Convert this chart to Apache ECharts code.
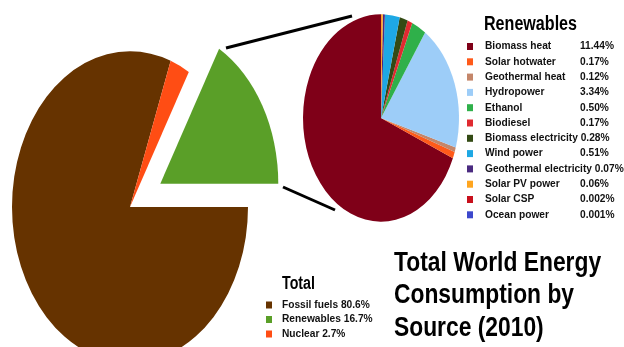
<!DOCTYPE html>
<html>
<head>
<meta charset="utf-8">
<script src="https://cdn.jsdelivr.net/npm/echarts@6/dist/echarts.min.js"></script>
<style>
  html, body { margin: 0; padding: 0; background: #fff; }
  #chart { width: 624px; height: 347px; }
</style>
</head>
<body>
<div id="chart"></div>
<script>
// World energy consumption by source, 2010 (percent of total)
const totalNames = ['Fossil fuels', 'Renewables', 'Nuclear'];
const totalShares = [80.6, 16.7, 2.7];
const totalColors = ['#663300', '#5a9f28', '#ff4d14'];

const renewNames = [
  'Biomass heat', 'Solar hotwater', 'Geothermal heat', 'Hydropower',
  'Ethanol', 'Biodiesel', 'Biomass electricity', 'Wind power',
  'Geothermal electricity', 'Solar PV power', 'Solar CSP', 'Ocean power'
];
const renewShares = [11.44, 0.17, 0.12, 3.34, 0.50, 0.17, 0.28, 0.51, 0.07, 0.06, 0.002, 0.001];
const renewLabels = ['11.44%', '0.17%', '0.12%', '3.34%', '0.50%', '0.17%', '0.28%', '0.51%', '0.07%', '0.06%', '0.002%', '0.001%'];
const renewColors = [
  '#7f0018', '#ff5a1a', '#c4866a', '#9dcdf8',
  '#2fb04a', '#e02a30', '#334a14', '#1ea8e4',
  '#4a2a80', '#ffa51f', '#c8101c', '#3c48cc'
];

const mainTitle = 'Total World Energy\nConsumption by\nSource (2010)';
const renewTitle = 'Renewables';
const totalTitle = 'Total';

const SANS = "'Liberation Sans', Arial, sans-serif";
const ITEM_FONT = 10.2;

// Pie geometry: drawn as ellipses (r horizontal, scaleY vertical stretch).
const leftPie = {
  names: totalNames, values: totalShares, colors: totalColors,
  cx: 130, cy: 207, r: 118, scaleY: 1.32,
  // fossil fuels end exactly at 3 o'clock, slices run counter-clockwise
  start: 360 * (1 - totalShares[0] / totalShares.reduce((a, b) => a + b, 0)),
  explode: { Renewables: 35 }
};
const rightPie = {
  names: renewNames, values: renewShares, colors: renewColors,
  cx: 381, cy: 118, r: 78, scaleY: 1.33,
  start: 90,
  explode: {}
};

function sliceSeries(pie, i) {
  const sum = pie.values.reduce((a, b) => a + b, 0);
  return {
    type: 'custom',
    name: pie.names[i],
    coordinateSystem: 'none',
    silent: true,
    animation: false,
    itemStyle: { color: pie.colors[i] },
    data: [pie.values[i]],
    renderItem: function (params, api) {
      let acc = 0;
      for (let j = 0; j < i; j++) acc += pie.values[j];
      const a0 = pie.start + 360 * acc / sum;
      const a1 = a0 + 360 * api.value(0) / sum;
      const mid = (a0 + a1) / 2 * Math.PI / 180;
      const d = pie.explode[pie.names[i]] || 0;
      return {
        type: 'sector',
        x: pie.cx + d * Math.cos(mid),
        y: pie.cy - d * Math.sin(mid) * pie.scaleY,
        scaleY: pie.scaleY,
        shape: {
          cx: 0, cy: 0, r0: 0, r: pie.r,
          startAngle: -a1 * Math.PI / 180,
          endAngle: -a0 * Math.PI / 180,
          clockwise: true
        },
        style: { fill: api.visual('color') }
      };
    }
  };
}

const series = [];
totalNames.forEach((_, i) => series.push(sliceSeries(leftPie, i)));
renewNames.forEach((_, i) => series.push(sliceSeries(rightPie, i)));

// Condensed bold heading text
function heading(text, x, y, size, lineHeight, squeeze) {
  return {
    type: 'text', x: x, y: y, scaleX: squeeze, silent: true,
    style: {
      text: text, x: 0, y: 0,
      font: 'bold ' + size + 'px ' + SANS,
      lineHeight: lineHeight,
      fill: '#000', align: 'left', verticalAlign: 'top'
    }
  };
}

const chart = echarts.init(document.getElementById('chart'), null, { renderer: 'canvas' });
chart.setOption({
  backgroundColor: '#ffffff',
  animation: false,
  legend: [
    {
      data: renewNames, orient: 'vertical', left: 467, top: 40, padding: 0,
      icon: 'rect', itemWidth: 6, itemHeight: 7, itemGap: 2.3,
      selectedMode: false,
      textStyle: {
        fontFamily: SANS, fontSize: ITEM_FONT, fontWeight: 'bold', color: '#111', lineHeight: 13,
        padding: [0, 0, 0, 7],
        rich: {
          n: { fontFamily: SANS, fontSize: ITEM_FONT, fontWeight: 'bold', color: '#111', width: 95 },
          m: { fontFamily: SANS, fontSize: ITEM_FONT, fontWeight: 'bold', color: '#111' }
        }
      },
      formatter: function (name) {
        const i = renewNames.indexOf(name);
        return name.length > 16
          ? '{m|' + name + ' ' + renewLabels[i] + '}'
          : '{n|' + name + '}{m|' + renewLabels[i] + '}';
      }
    },
    {
      data: totalNames, orient: 'vertical', left: 266, top: 298.5, padding: 0,
      icon: 'rect', itemWidth: 6, itemHeight: 7, itemGap: 1.5,
      selectedMode: false,
      textStyle: {
        fontFamily: SANS, fontSize: ITEM_FONT, fontWeight: 'bold', color: '#111', lineHeight: 13,
        padding: [0, 0, 0, 5]
      },
      formatter: function (name) {
        const i = totalNames.indexOf(name);
        return name + ' ' + totalShares[i].toFixed(1) + '%';
      }
    }
  ],
  graphic: [
    { type: 'line', shape: { x1: 226, y1: 48, x2: 352, y2: 16 }, style: { stroke: '#000', lineWidth: 3 } },
    { type: 'line', shape: { x1: 283, y1: 187, x2: 335, y2: 210 }, style: { stroke: '#000', lineWidth: 3 } },
    heading(renewTitle, 484, 14, 19.5, 22, 0.825),
    heading(totalTitle, 282, 274, 18, 20, 0.79),
    heading(mainTitle, 394, 247, 28, 32.5, 0.815)
  ],
  series: series
});
</script>
</body>
</html>
